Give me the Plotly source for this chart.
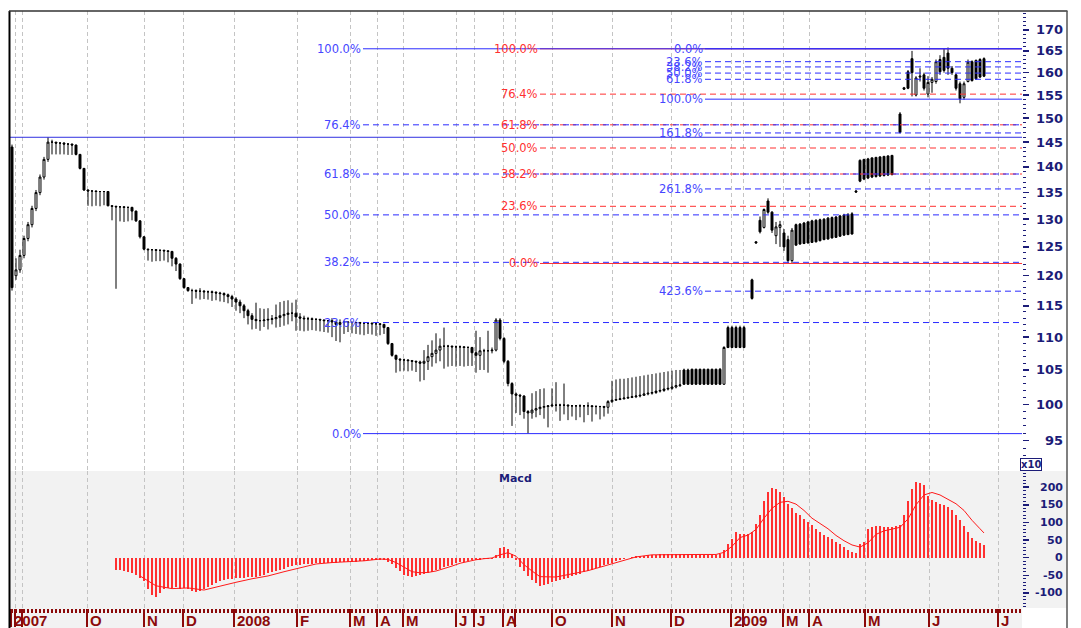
import numpy as np
import plotly.graph_objects as go

# ---------------- DATA ----------------
# One candle per slot; None = no bar in that slot.
open_ = [
    144.0, 120.0, 121.0, 123.5, 126.5, 129.0, 132.0, 135.0, 138.0, 141.5,
    145.0, 145.0, 144.8, 144.8, 144.6, 144.6, 144.4, 142.5, 139.7, 135.5,
    135.3, 135.3, 135.2, 135.2, 135.2, 132.5, 132.4, 132.3, 132.3, 132.2,
    132.2, 131.5, 129.7, 126.8, 124.6, 124.5, 124.5, 124.4, 124.4, 124.3,
    124.2, 123.0, 122.0, 119.5, 118.0, 117.5, 117.5, 117.4, 117.4, 117.3,
    117.3, 117.2, 117.1, 117.0, 116.8, 116.5, 116.1, 115.6, 115.0, 114.2,
    113.4, 112.8, 112.6, 112.6, 112.7, 112.8, 112.9, 113.1, 113.4, 113.6,
    113.8, 113.8, 113.2, 113.0, 112.9, 112.9, 112.8, 112.8, 112.7, 112.6,
    112.6, 112.4, 112.0, 112.3, 112.4, 112.3, 112.3, 112.3, 112.2, 112.2,
    112.2, 112.1, 112.1, 112.0, 111.5, 109.0, 107.2, 106.6, 106.5, 106.5,
    106.4, 106.3, 106.2, 106.0, 106.3, 107.0, 107.5, 108.0, 108.6, 108.6,
    108.6, 108.5, 108.5, 108.5, 108.4, 108.4, 107.6, 107.2, 107.9, 107.9,
    107.9, 108.0, 112.7, 109.8, 106.3, 103.0, 101.5, 101.3, 101.2, 99.0,
    98.8, 99.2, 99.4, 99.6, 99.7, 99.8, 99.9, 99.9, 99.9, 99.9,
    99.8, 99.8, 99.8, 99.8, 99.8, 99.8, 99.7, 99.7, 99.7, 99.6,
    100.4, 100.6, 100.7, 100.8, 100.9, 101.0, 101.1, 101.2, 101.3, 101.5,
    101.6, 101.7, 101.9, 102.0, 102.2, 102.3, 102.5, 102.7, 105.0, 105.0,
    105.1, 105.1, 105.1, 105.1, 105.1, 105.1, 105.1, 105.1, 102.9, 111.5,
    111.5, 111.5, 111.5, 111.5, None, 119.3, 125.9, 129.8, 128.5, 133.4,
    131.3, 127.0, 128.5, 127.5, 126.3, 122.6, 129.0, 129.1, 129.3, 129.5,
    129.7, 129.8, 129.9, 130.0, 130.2, 130.3, 130.4, 130.6, 130.8, 130.9,
    131.0, 135.3, 141.3, 141.5, 141.6, 141.8, 141.9, 142.0, 142.1, 142.2,
    142.3, None, 150.9, 156.6, 160.2, 163.2, 155.0, 159.0, 159.5, 155.2,
    157.8, 158.0, 163.0, 163.5, 164.5, 161.0, 159.5, 157.5, 154.5, 158.0,
    162.5, 162.8, 163.0, 163.2]

high = [
    144.5, 123.0, 124.5, 127.0, 129.5, 132.5, 135.5, 138.5, 142.0, 146.0,
    145.5, 145.0, 145.0, 145.0, 144.8, 144.7, 144.5, 142.6, 139.8, 135.6,
    135.4, 135.4, 135.3, 135.3, 135.3, 132.6, 132.5, 132.4, 132.4, 132.3,
    132.3, 131.6, 129.8, 126.9, 124.7, 124.6, 124.6, 124.5, 124.5, 124.4,
    124.3, 123.2, 122.1, 119.6, 118.1, 117.8, 117.7, 117.9, 117.6, 117.5,
    117.5, 117.4, 117.3, 117.2, 117.0, 116.8, 116.4, 116.0, 115.3, 114.5,
    113.8, 115.5, 114.6, 114.5, 114.6, 113.5, 115.2, 115.6, 115.8, 115.9,
    115.5, 116.0, 113.8, 113.4, 113.2, 113.1, 113.0, 112.9, 112.8, 112.7,
    113.0, 112.6, 112.8, 112.6, 112.5, 112.5, 112.4, 112.4, 112.4, 112.3,
    112.3, 112.3, 112.2, 112.1, 111.6, 109.1, 107.3, 106.8, 106.7, 106.6,
    106.5, 106.4, 106.4, 108.0, 108.8, 109.5, 110.6, 109.8, 111.5, 108.8,
    108.7, 108.7, 108.7, 108.6, 108.6, 108.5, 111.0, 110.0, 108.2, 111.0,
    108.4, 113.0, 113.0, 110.0, 106.5, 103.2, 101.7, 101.5, 101.3, 99.2,
    101.6, 101.9, 102.2, 102.3, 99.9, 102.3, 103.2, 100.1, 103.0, 100.0,
    99.9, 99.9, 100.0, 99.9, 100.3, 99.9, 99.9, 99.8, 99.8, 100.6,
    103.4, 103.6, 103.7, 103.7, 103.8, 103.9, 104.0, 104.1, 104.2, 104.3,
    104.4, 104.5, 104.6, 104.7, 104.8, 104.9, 105.0, 105.0, 105.2, 105.2,
    105.2, 105.2, 105.2, 105.2, 105.2, 105.2, 105.2, 105.3, 108.6, 111.8,
    111.8, 111.8, 111.8, 111.8, None, 119.5, 126.0, 130.5, 132.0, 133.9,
    131.5, 129.5, 129.7, 128.2, 127.0, 128.4, 129.2, 129.3, 129.5, 129.7,
    129.9, 130.0, 130.1, 130.2, 130.4, 130.5, 130.6, 130.8, 131.0, 131.1,
    131.3, 135.5, 141.5, 141.6, 141.8, 141.9, 142.0, 142.1, 142.2, 142.3,
    142.4, None, 151.3, 156.8, 160.6, 165.0, 159.2, 161.0, 160.0, 159.2,
    159.0, 163.0, 164.0, 165.5, 165.8, 161.5, 159.8, 158.0, 158.0, 163.0,
    162.8, 163.0, 163.3, 163.5]

low = [
    117.5, 119.3, 120.5, 123.0, 126.0, 128.5, 131.5, 134.5, 137.5, 141.0,
    142.5, 142.5, 142.5, 142.5, 142.4, 142.4, 142.3, 139.5, 135.3, 132.5,
    132.4, 132.5, 132.4, 132.6, 132.4, 129.8, 117.8, 129.6, 129.5, 129.6,
    129.8, 129.5, 126.5, 124.4, 122.6, 122.4, 122.5, 122.5, 122.6, 122.3,
    121.6, 120.8, 119.3, 117.8, 117.3, 115.3, 116.2, 116.0, 116.1, 116.0,
    115.8, 115.9, 115.7, 115.6, 115.4, 114.8, 114.2, 113.8, 113.0, 112.0,
    111.2, 111.3, 111.0, 111.6, 111.2, 112.0, 111.5, 111.6, 111.8, 112.0,
    112.5, 111.0, 111.0, 110.9, 111.0, 111.1, 111.0, 110.9, 110.8, 110.7,
    110.0, 109.4, 109.2, 110.5, 110.8, 110.6, 110.5, 110.4, 110.3, 110.5,
    110.4, 110.2, 110.3, 110.5, 108.8, 107.0, 104.6, 104.8, 104.9, 104.8,
    104.9, 104.7, 103.3, 103.5, 105.0, 105.5, 106.0, 106.3, 105.2, 105.5,
    105.6, 105.5, 105.6, 105.5, 105.6, 105.6, 104.6, 105.0, 105.0, 104.6,
    107.5, 107.8, 109.5, 106.0, 102.6, 97.0, 98.8, 98.5, 98.0, 95.95,
    98.0, 98.2, 98.5, 98.0, 96.8, 99.6, 99.0, 97.7, 98.6, 97.8,
    98.3, 97.8, 98.2, 97.5, 98.5, 97.6, 98.6, 97.9, 98.3, 98.7,
    100.2, 100.5, 100.6, 100.7, 100.8, 100.9, 100.9, 101.0, 101.2, 101.3,
    101.4, 101.5, 101.7, 101.8, 102.0, 102.1, 102.3, 102.5, 102.8, 102.8,
    102.8, 102.8, 102.8, 102.8, 102.8, 102.8, 102.8, 102.8, 102.8, 108.3,
    108.3, 108.3, 108.3, 108.3, None, 116.0, 125.6, 127.4, 128.3, 131.0,
    127.5, 125.5, 125.0, 124.3, 122.2, 122.2, 125.3, 125.4, 125.5, 125.6,
    125.7, 125.8, 126.0, 126.2, 126.3, 126.5, 126.6, 126.8, 127.0, 127.1,
    127.2, 135.0, 137.0, 137.4, 137.6, 137.8, 137.9, 138.0, 138.1, 138.2,
    138.3, None, 146.8, 156.2, 156.3, 154.7, 154.7, 158.0, 156.0, 154.5,
    155.5, 157.5, 159.5, 160.0, 159.5, 159.5, 156.0, 153.2, 154.0, 157.8,
    158.0, 158.4, 158.8, 159.0]

close = [
    118.0, 121.0, 123.5, 126.5, 129.0, 132.0, 135.0, 138.0, 141.5, 145.0,
    145.0, 144.8, 144.8, 144.6, 144.6, 144.4, 142.5, 139.7, 135.5, 135.3,
    135.3, 135.2, 135.2, 135.2, 132.5, 132.4, 132.3, 132.3, 132.2, 132.2,
    131.5, 129.7, 126.8, 124.6, 124.5, 124.5, 124.4, 124.4, 124.3, 124.2,
    123.0, 122.0, 119.5, 118.0, 117.5, 117.5, 117.4, 117.4, 117.3, 117.3,
    117.2, 117.1, 117.0, 116.8, 116.5, 116.1, 115.6, 115.0, 114.2, 113.4,
    112.8, 112.6, 112.6, 112.7, 112.8, 112.9, 113.1, 113.4, 113.6, 113.8,
    113.8, 113.2, 113.0, 112.9, 112.9, 112.8, 112.8, 112.7, 112.6, 112.6,
    112.4, 112.0, 112.3, 112.4, 112.3, 112.3, 112.3, 112.2, 112.2, 112.2,
    112.1, 112.1, 112.0, 111.5, 109.0, 107.2, 106.6, 106.5, 106.5, 106.4,
    106.3, 106.2, 106.0, 106.3, 107.0, 107.5, 108.0, 108.6, 108.6, 108.6,
    108.5, 108.5, 108.5, 108.4, 108.4, 107.6, 107.2, 107.9, 107.9, 107.9,
    108.0, 112.7, 109.8, 106.3, 103.0, 101.5, 101.3, 101.2, 99.0, 98.8,
    99.2, 99.4, 99.6, 99.7, 99.8, 99.9, 99.9, 99.9, 99.9, 99.8,
    99.8, 99.8, 99.8, 99.8, 99.8, 99.7, 99.7, 99.7, 99.6, 100.4,
    100.6, 100.7, 100.8, 100.9, 101.0, 101.1, 101.2, 101.3, 101.5, 101.6,
    101.7, 101.9, 102.0, 102.2, 102.3, 102.5, 102.7, 102.8, 102.9, 102.9,
    102.9, 102.9, 102.9, 102.9, 102.9, 102.9, 102.9, 102.9, 108.4, 108.4,
    108.4, 108.4, 108.4, 108.4, None, 116.2, 125.7, 127.7, 131.8, 131.3,
    128.0, 128.6, 129.0, 125.0, 122.6, 128.0, 125.3, 125.5, 125.6, 125.7,
    125.8, 125.9, 126.1, 126.3, 126.4, 126.6, 126.7, 126.9, 127.1, 127.2,
    127.3, 135.1, 137.2, 137.6, 137.8, 138.0, 138.1, 138.2, 138.3, 138.4,
    138.5, None, 147.0, 156.3, 156.5, 160.0, 158.8, 159.2, 156.5, 157.8,
    158.5, 162.5, 160.2, 160.5, 161.0, 160.0, 156.5, 154.2, 157.5, 162.4,
    158.2, 158.6, 159.0, 159.2]

# MACD histogram (x10 units), one per slot
macd_hist = [
    None, None, None, None, None, None, None, None, None, None,
    None, None, None, None, None, None, None, None, None, None,
    None, None, None, None, None, None, -34, -36, -38, -40,
    -45, -49, -58, -66, -88, -106, -111, -100, -90, -86,
    -85, -84, -88, -86, -90, -95, -97, -95, -88, -83,
    -78, -72, -66, -63, -62, -60, -59, -58, -57, -56,
    -55, -54, -52, -48, -44, -40, -38, -35, -31, -27,
    -25, -22, -20, -19, -18, -17, -16, -15, -15, -14,
    -14, -14, -13, -13, -12, -12, -11, -10, -9, -8,
    -7, -6, -6, -8, -12, -18, -28, -38, -48, -52,
    -54, -53, -50, -47, -43, -40, -36, -31, -26, -23,
    -20, -16, -13, -11, -9, -8, -7, -6, -5, -5,
    -4, 8, 26, 29, 24, 10, -6, -26, -38, -52,
    -64, -72, -80, -78, -74, -70, -66, -63, -60, -57,
    -53, -49, -46, -42, -38, -34, -30, -26, -22, -18,
    -14, -10, -7, -4, -1, 2, 4, 5, 6, 7,
    8, 8, 9, 9, 9, 10, 10, 10, 10, 9,
    9, 9, 9, 8, 8, 8, 8, 9, 22, 40,
    52, 72, 68, 66, 68, 74, 95, 122, 160, 186,
    197, 194, 186, 171, 151, 140, 128, 120, 110, 102,
    92, 80, 72, 65, 60, 54, 45, 38, 30, 22,
    15, 14, 40, 45, 80, 88, 90, 89, 87, 86,
    88, 90, 94, 120, 160, 195, 214, 213, 205, 175,
    165, 158, 153, 150, 143, 135, 120, 106, 90, 74,
    56, 47, 42, 37]

# MACD signal line, read at these slots
signal_slot = [32, 36, 40, 44, 48, 52, 56, 60, 64, 68,
               72, 76, 80, 84, 88, 92, 94, 96, 98, 100,
               102, 104, 106, 108, 110, 112, 114, 116, 118, 120,
               122, 124, 126, 128, 130, 132, 136, 140, 144, 148,
               152, 156, 160, 164, 168, 172, 176, 178, 180, 182,
               184, 186, 188, 190, 192, 194, 196, 198, 200, 202,
               204, 206, 208, 210, 212, 214, 216, 218, 220, 222,
               224, 226, 228, 230, 232, 234, 236, 238, 240, 242, 243]
signal_val = [-52, -80, -88, -86, -92, -80, -70, -60, -52, -40,
              -28, -18, -14, -12, -9, -4, -5, -14, -28, -40,
              -43, -42, -38, -32, -24, -16, -10, -6, -3, -1,
              8, 14, 4, -20, -38, -54, -55, -46, -37, -24,
              -12, 2, 8, 9, 9, 9, 9, 15, 32, 57,
              64, 80, 112, 140, 157, 160, 152, 134, 112, 96,
              82, 63, 48, 36, 30, 42, 66, 76, 82, 86,
              110, 150, 178, 185, 178, 166, 153, 134, 106, 82, 70]

# Month boundaries (slot units) and their labels
month_slot = [-0.25, 0.75, 2.5, 18.75, 33, 42.75, 55.5, 71.25, 84.5, 91.25,
              97.75, 111, 115.5, 122.75, 125.75, 135, 150, 164.75, 179.75, 182.75,
              192.75, 199.25, 213.25, 229.25, 246.5]
month_lbl = ['2007', '', '', 'O', 'N', 'D', '2008', 'F', 'M', 'A',
             'M', 'J', 'J', 'A', '', 'O', 'N', 'D', '2009', '',
             'M', 'A', 'M', 'J', 'J']

# Fibonacci levels
fibA_lbl = ['100.0%', '76.4%', '61.8%', '50.0%', '38.2%', '23.6%', '0.0%']
fibA_val = [165.5, 148.6, 138.6, 130.8, 122.3, 112.3, 95.95]
fibR_lbl = ['100.0%', '76.4%', '61.8%', '50.0%', '38.2%', '23.6%', '0.0%']
fibR_val = [165.5, 155.2, 148.6, 143.8, 138.6, 132.4, 122.1]
fibB_lbl = ['0.0%', '23.6%', '38.2%', '50.0%', '61.8%', '100.0%', '161.8%', '261.8%', '423.6%']
fibB_val = [165.5, 162.5, 161.3, 159.9, 158.5, 154.1, 146.9, 135.7, 117.4]
hline_val = 146.0

price_ticks = [95, 100, 105, 110, 115, 120, 125, 130, 135, 140, 145, 150, 155, 160, 165, 170]
macd_ticks = [-100, -50, 0, 50, 100, 150, 200]

# ---------------- LAYOUT CONSTANTS (pixel positions in the 1081x628 view) ----------------
VIEW_W, VIEW_H = 1081, 628
OFF = 8                      # page body margin of the html page
W, H = VIEW_W - OFF, VIEW_H - OFF
L_PX, R_PX, T_PX, B_PX = 10, 1022, 11, 608
SPLIT_PX = 471
X_RANGE = [-0.5, 252.5]
P_RANGE = [np.log10(91.0), np.log10(174.6)]
M_RANGE = [-143, 246]
FIB_A_X, FIB_R_X, FIB_B_X = 87.75, 132.0, 173.25

NAVY = '#1c1c78'
BLUE = '#2b2bff'
LBL_BLUE = '#4646ff'
RED = '#ff3030'
DARKRED = '#8b0a0a'
GRID = '#c4c4c4'


def xp(px):
    return (px - L_PX) / (R_PX - L_PX)


def yp(px):
    return (B_PX - px) / (B_PX - T_PX)


split = yp(SPLIT_PX)
slots = list(range(len(close)))

fig = go.Figure()

# Price candles (drawn first)
fig.add_trace(go.Candlestick(
    x=slots, open=open_, high=high, low=low, close=close,
    increasing=dict(line=dict(color='black', width=1), fillcolor='white'),
    decreasing=dict(line=dict(color='black', width=1), fillcolor='black'),
    whiskerwidth=0, hoverinfo='skip', xaxis='x', yaxis='y'))


def add_fib(labels, vals, x0, color):
    for lbl, v in zip(labels, vals):
        solid = lbl in ('0.0%', '100.0%')
        fig.add_trace(go.Scatter(
            x=[x0, X_RANGE[1]], y=[v, v], mode='lines',
            line=dict(color=color, width=1, dash='solid' if solid else '6px,4px'),
            hoverinfo='skip', xaxis='x', yaxis='y'))


add_fib(fibR_lbl, fibR_val, FIB_R_X, RED)
add_fib(fibA_lbl, fibA_val, FIB_A_X, BLUE)
add_fib(fibB_lbl, fibB_val, FIB_B_X, BLUE)
fig.add_trace(go.Scatter(x=X_RANGE, y=[hline_val, hline_val], mode='lines',
                         line=dict(color='#3030e0', width=1), hoverinfo='skip',
                         xaxis='x', yaxis='y'))

# MACD
fig.add_trace(go.Bar(x=slots, y=macd_hist, width=0.38, marker=dict(color=RED, line=dict(width=0)),
                     hoverinfo='skip', xaxis='x2', yaxis='y2'))
fig.add_trace(go.Scatter(x=signal_slot, y=signal_val, mode='lines',
                         line=dict(color='#ff1a1a', width=1), hoverinfo='skip',
                         xaxis='x2', yaxis='y2'))

annotations = []
for labels, vals, x0, color in [(fibA_lbl, fibA_val, FIB_A_X, LBL_BLUE),
                                (fibR_lbl, fibR_val, FIB_R_X, RED),
                                (fibB_lbl, fibB_val, FIB_B_X, LBL_BLUE)]:
    for lbl, v in zip(labels, vals):
        annotations.append(dict(x=x0, y=np.log10(v), xref='x', yref='y', text=lbl,
                                showarrow=False, xanchor='right', yanchor='middle',
                                font=dict(family='DejaVu Sans', size=11.5, color=color)))
for t in price_ticks:
    annotations.append(dict(x=xp(1065), y=np.log10(t), xref='paper', yref='y', text=str(t),
                            showarrow=False, xanchor='right', yanchor='middle',
                            font=dict(family='DejaVu Sans', size=13, color=NAVY, weight='bold')))
for t in macd_ticks:
    annotations.append(dict(x=xp(1065), y=t, xref='paper', yref='y2', text=str(t),
                            showarrow=False, xanchor='right', yanchor='middle',
                            font=dict(family='DejaVu Sans', size=11, color=NAVY, weight='bold')))
for s, lbl in zip(month_slot, month_lbl):
    if lbl:
        annotations.append(dict(x=s, y=yp(620), xref='x2', yref='paper', text=lbl,
                                showarrow=False, xanchor='left', yanchor='middle', xshift=1,
                                font=dict(family='Liberation Sans', size=15, color=DARKRED,
                                          weight='bold')))
annotations.append(dict(x=xp(515), y=yp(478), xref='paper', yref='paper', text='Macd',
                        showarrow=False, xanchor='center', yanchor='middle',
                        font=dict(family='DejaVu Sans', size=11, color=NAVY, weight='bold')))
annotations.append(dict(x=xp(1020), y=yp(464), xref='paper', yref='paper', text='x10',
                        showarrow=False, xanchor='left', yanchor='middle',
                        bordercolor=NAVY, borderwidth=1, borderpad=0, bgcolor='white',
                        font=dict(family='DejaVu Sans', size=10, color=NAVY, weight='bold')))

shapes = [
    dict(type='rect', xref='paper', yref='paper', x0=xp(L_PX), x1=xp(1067), y0=0, y1=split,
         fillcolor='#f2f2f2', line=dict(width=0), layer='below'),
    dict(type='rect', xref='paper', yref='paper', x0=xp(L_PX), x1=xp(R_PX), y0=yp(VIEW_H), y1=0,
         fillcolor='#f2f2f2', line=dict(width=0), layer='below'),
    dict(type='line', xref='paper', yref='paper', x0=xp(9.5), x1=xp(9.5), y0=yp(11), y1=yp(VIEW_H),
         line=dict(color='black', width=2)),
    dict(type='line', xref='paper', yref='paper', x0=xp(9), x1=xp(1067.5), y0=yp(11), y1=yp(11),
         line=dict(color='#333333', width=1.5)),
    dict(type='line', xref='paper', yref='paper', x0=xp(1067), x1=xp(1067), y0=yp(11), y1=yp(VIEW_H),
         line=dict(color='#555555', width=1.5)),
]

xcommon = dict(range=X_RANGE, tickmode='array', tickvals=month_slot, showticklabels=False,
               showgrid=True, gridcolor=GRID, griddash='4px,3px', gridwidth=1,
               zeroline=False, showline=False, fixedrange=True)

fig.update_layout(
    width=W, height=H,
    margin=dict(l=L_PX - OFF, r=VIEW_W - R_PX, t=T_PX - OFF, b=VIEW_H - B_PX, pad=0),
    paper_bgcolor='white', plot_bgcolor='rgba(0,0,0,0)',
    showlegend=False, bargap=0,
    xaxis=dict(domain=[0, 1], anchor='y', ticks='', rangeslider=dict(visible=False), **xcommon),
    xaxis2=dict(domain=[0, 1], anchor='y2', ticks='outside', ticklen=18, tickwidth=1.5,
                tickcolor=DARKRED,
                minor=dict(tickmode='array', tickvals=list(range(0, 253)), ticks='outside',
                           ticklen=4, tickwidth=1.5, tickcolor=DARKRED, showgrid=False),
                **xcommon),
    yaxis=dict(domain=[split, 1], anchor='x', type='log', range=P_RANGE, side='right',
               tickmode='array', tickvals=price_ticks, showticklabels=False,
               ticks='outside', ticklen=6, tickwidth=1.5, tickcolor=NAVY,
               minor=dict(tickmode='array', tickvals=list(range(92, 175)), ticks='outside',
                          ticklen=3, tickwidth=1, tickcolor=NAVY, showgrid=False),
               showgrid=False, zeroline=False, showline=False, fixedrange=True),
    yaxis2=dict(domain=[0, split], anchor='x2', range=M_RANGE, side='right',
                tickmode='array', tickvals=macd_ticks, showticklabels=False,
                ticks='outside', ticklen=6, tickwidth=1.5, tickcolor=NAVY,
                minor=dict(tickmode='array', tickvals=list(range(-140, 250, 10)), ticks='outside',
                           ticklen=3, tickwidth=1, tickcolor=NAVY, showgrid=False),
                showgrid=False, zeroline=False, showline=False, fixedrange=True),
    annotations=annotations,
    shapes=shapes,
)

fig.write_html("out.html", config={'displayModeBar': False, 'staticPlot': True})
